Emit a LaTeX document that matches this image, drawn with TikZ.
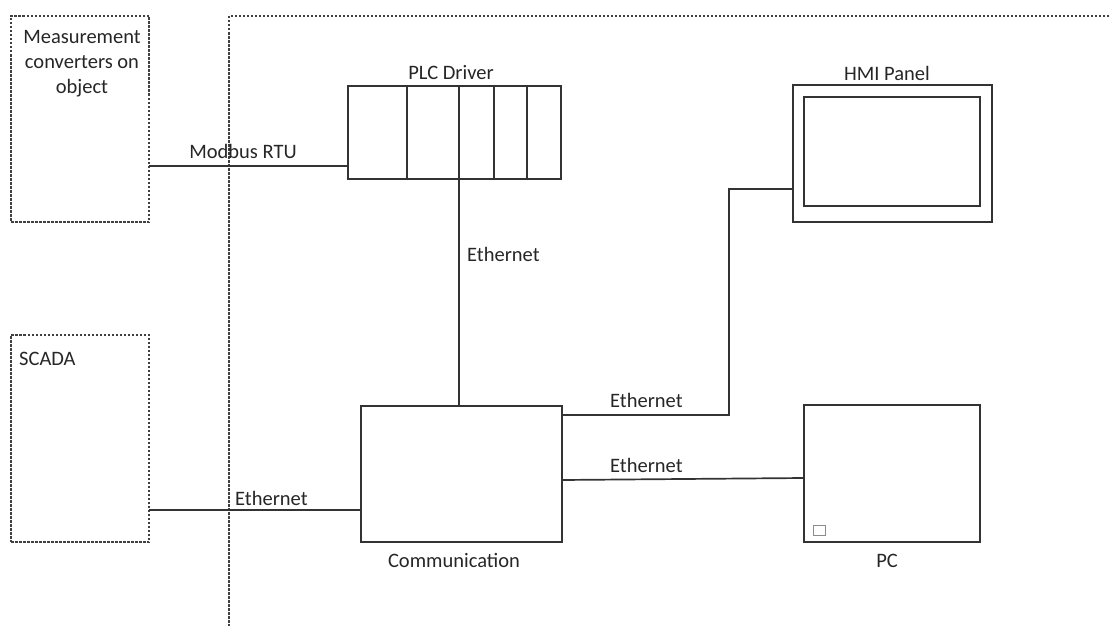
\documentclass[tikz,border=0pt]{standalone}
\usepackage{fontspec}
\setmainfont{Carlito}
\begin{document}
\begin{tikzpicture}[x=1pt,y=-1pt,
  every node/.style={font=\fontsize{20.5}{25}\selectfont, text=black!85, inner sep=0pt},
  box/.style={draw=black!80, line width=1.7pt, rectangle},
  dotbox/.style={draw=black!75, line width=1.6pt, dash pattern=on 2.5pt off 1.5pt, rectangle},
  dotline/.style={draw=black!75, line width=1.6pt, dash pattern=on 2.5pt off 1.5pt},
  wire/.style={draw=black!80, line width=1.7pt},
  lbl/.style={anchor=base west}]
\useasboundingbox (0,0) rectangle (1111,626);

% boundary of the control cabinet
\coordinate (bR) at (1109,16);
\coordinate (bT) at (229,16);
\coordinate (bB) at (229,626);
\draw[dotline] (bR) -- (bT) -- (bB);

% external boxes
\node[dotbox, minimum width=138pt, minimum height=206pt] (meas) at (80,119) {};
\node[align=center, anchor=base] (meastext) at (82,93) {Measurement\\converters on\\object};
\node[dotbox, minimum width=138pt, minimum height=207pt] (scada) at (80,438.5) {};
\node[lbl] (scadatext) at (19,365) {SCADA};

% PLC driver
\node[box, minimum width=213pt, minimum height=93pt] (plc) at (454.5,132.5) {};
\foreach \x in {407,459,494,527} \draw[wire] (\x,86) -- (\x,179);
\node[anchor=base] (plclabel) at (451,80) {PLC Driver};

% HMI panel
\node[box, minimum width=199pt, minimum height=137pt] (hmi) at (892.5,153.5) {};
\node[box, minimum width=176pt, minimum height=109pt] (hmiscreen) at (892,151.5) {};
\node[anchor=base] (hmilabel) at (887,81) {HMI Panel};

% Communication
\node[box, minimum width=201pt, minimum height=136pt] (comm) at (461.5,474) {};
\node[anchor=base] (commlabel) at (454,567) {Communication};

% PC
\node[box, minimum width=176pt, minimum height=137pt] (pc) at (892,473.5) {};
\node[draw=black!45, line width=1pt, minimum width=12pt, minimum height=10pt] (pcled) at (819.5,530.5) {};
\node[anchor=base] (pclabel) at (887,567) {PC};

% connectors
\coordinate (m1) at (149,166);
\draw[wire] (m1) -- (m1 -| plc.west);
\node[anchor=base] (modbus) at (243,158) {Modbus RTU};

\coordinate (v1) at (459,0);
\draw[wire] (plc.south -| v1) -- (comm.north -| v1);
\node[lbl] (eth1) at (467,261) {Ethernet};

\coordinate (s1) at (149,510);
\draw[wire] (s1) -- (s1 -| comm.west);
\node[lbl] (eth2) at (235,505) {Ethernet};

\coordinate (h1) at (562,415);
\coordinate (h2) at (729,189);
\draw[wire] (h1) -| (h2) -- (h2 -| hmi.west);
\node[lbl] (eth3) at (610,407) {Ethernet};

\coordinate (p1) at (562,480);
\coordinate (p2) at (804,478);
\draw[wire] (p1) -- (p2);
\node[lbl] (eth4) at (610,472) {Ethernet};
\end{tikzpicture}
\end{document}
